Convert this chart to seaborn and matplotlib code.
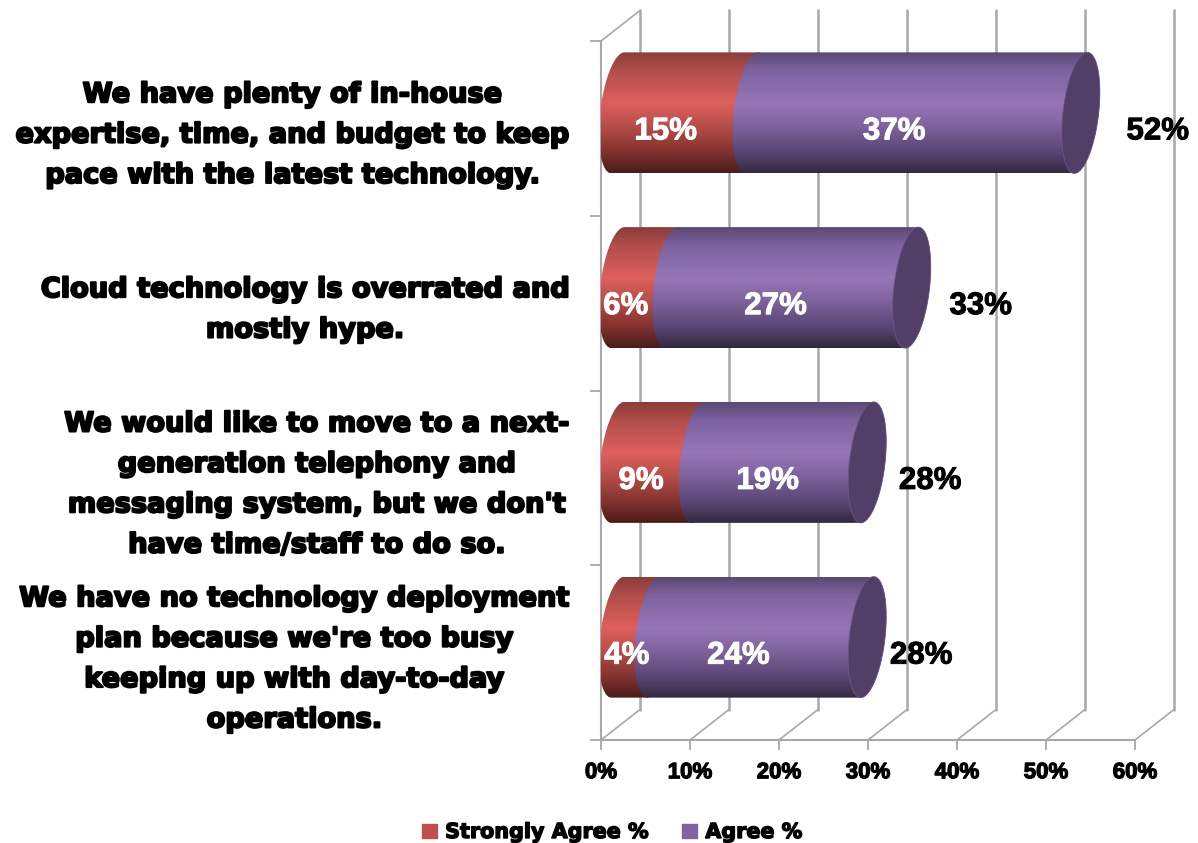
import matplotlib
matplotlib.use("Agg")
import matplotlib.pyplot as plt
import matplotlib.patheffects as pe
from matplotlib.colors import LinearSegmentedColormap
from matplotlib.patches import Patch, PathPatch, Polygon
from matplotlib.path import Path
from matplotlib.transforms import ScaledTranslation
import numpy as np
import pandas as pd
import seaborn as sns

statements = [
    "We have plenty of in-house\nexpertise, time, and budget to keep\npace with the latest technology.",
    "Cloud technology is overrated and\nmostly hype.",
    "We would like to move to a next-\ngeneration telephony and\nmessaging system, but we don't\nhave time/staff to do so.",
    "We have no technology deployment\nplan because we're too busy\nkeeping up with day-to-day\noperations.",
]
strongly_agree = [15, 6, 9, 4]
agree = [37, 27, 19, 24]
x_ticks = [0, 10, 20, 30, 40, 50, 60]

RED = "#C0504D"
PURPLE = "#8064A2"
CAP = "#523F68"
GRID = "#a8a8a8"
TEXT_FONT = ["DejaVu Sans"]
NUM_FONT = ["Liberation Sans"]

# Pixel size of one axis unit, used to lay out the oblique depth effect.
UX, UY = 8.9, 174.75
DEPTH_X, DEPTH_Y = 39 / UX, 30.5 / UY
MID_X, MID_Y = 17 / UX, 15.5 / UY
ELL_A, ELL_S, = 17.9 / UX, 6.5 / UX

sns.set_theme(style="white")
fig = plt.figure(figsize=(11.98, 8.43), dpi=100)
W, H = 1198, 843
ax = fig.add_axes([601 / W, 1 - 740 / H, 534 / W, 699 / H])

df = pd.DataFrame({"statement": statements, "strong": strongly_agree, "agree": agree})
sns.barplot(data=df, y="statement", x="strong", color=RED, width=121 / UY,
            orient="h", ax=ax, zorder=0)
n_first = len(ax.patches)
sns.barplot(data=df, y="statement", x="agree", color=PURPLE, width=121 / UY,
            orient="h", ax=ax, left=df["strong"].to_numpy(), zorder=0)
bars = list(ax.patches)

ax.set_xlim(0, 60)
ax.set_ylim(3.5, -0.5)
ax.set_xlabel("")
ax.set_ylabel("")

RED_MAP = LinearSegmentedColormap.from_list(
    "red_shade", [(0, "#8a3d3a"), (0.15, "#b04e4b"), (0.42, "#de605d"),
                  (0.6, "#b94f4c"), (0.85, "#7a2f2c"), (1, "#4a1b19")])
PURPLE_MAP = LinearSegmentedColormap.from_list(
    "purple_shade", [(0, "#5b4873"), (0.15, "#7d62a0"), (0.42, "#9676b9"),
                     (0.6, "#80649f"), (0.85, "#56426f"), (1, "#34283f")])


def ellipse(cx, cy, half_h, t):
    return np.column_stack([cx + ELL_A * np.cos(t) - ELL_S * np.sin(t),
                            cy + half_h * np.sin(t)])


def draw_cylinder(bar, cmap, end_cap):
    x0, x1 = bar.get_x() + MID_X, bar.get_x() + bar.get_width() + MID_X
    half_h = bar.get_height() / 2
    cy = bar.get_y() + half_h - MID_Y
    # Left end curves out on the near side; the far end closes the silhouette.
    left = ellipse(x0, cy, half_h, np.linspace(np.pi / 2, 3 * np.pi / 2, 60))
    right = ellipse(x1, cy, half_h, np.linspace(-np.pi / 2, np.pi / 2, 60))
    shape = np.vstack([left, right])
    outline = PathPatch(Path(np.vstack([shape, shape[:1]])), fc="none",
                        ec="none", transform=ax.transData)
    ax.add_patch(outline)
    img = ax.imshow(np.linspace(0, 1, 256)[:, None], cmap=cmap, aspect="auto",
                    extent=(shape[:, 0].min(), shape[:, 0].max(),
                            cy + half_h, cy - half_h), zorder=2.5)
    img.set_clip_path(outline)
    if end_cap:
        t = np.linspace(0, 2 * np.pi, 120)
        ax.add_patch(Polygon(ellipse(x1, cy, half_h, t), closed=True, fc=CAP,
                             ec="#6d5589", lw=0.6, zorder=2.6))


for bar in bars[:n_first]:
    draw_cylinder(bar, RED_MAP, False)
for bar in bars[n_first:]:
    draw_cylinder(bar, PURPLE_MAP, True)
for bar in bars:
    bar.set_visible(False)
ax.set_xlim(0, 60)
ax.set_ylim(3.5, -0.5)

# Back wall, floor and side of the oblique frame.
for tick in x_ticks:
    ax.plot([tick + DEPTH_X] * 2, [3.5 - DEPTH_Y, -0.5 - DEPTH_Y], color=GRID,
            lw=1.8, clip_on=False, zorder=1)
    ax.plot([tick, tick + DEPTH_X], [3.5, 3.5 - DEPTH_Y], color=GRID, lw=1.2,
            clip_on=False, zorder=1)
ax.plot([0, DEPTH_X], [-0.5, -0.5 - DEPTH_Y], color=GRID, lw=1.2, clip_on=False, zorder=1)

sns.despine(ax=ax, top=True, right=True)
for side in ("left", "bottom"):
    ax.spines[side].set_color(GRID)
    ax.spines[side].set_linewidth(1.5)
    ax.spines[side].set_zorder(1.5)

heavy = [pe.withStroke(linewidth=1.5, foreground="black")]
medium = [pe.withStroke(linewidth=0.9, foreground="black")]
light = [pe.withStroke(linewidth=0.7, foreground="white")]

ax.set_xticks(x_ticks, [f"{t}%" for t in x_ticks], fontfamily=NUM_FONT,
              fontweight="bold", fontsize=16, color="black")
ax.tick_params(axis="x", length=7, width=1.3, color=GRID, pad=9, bottom=True)
for lab in ax.get_xticklabels():
    lab.set_path_effects(medium)

ax.set_yticks(range(4), statements, fontfamily=TEXT_FONT, fontweight="bold",
              fontsize=19.6, color="black", linespacing=1.72, multialignment="center")
ax.tick_params(axis="y", which="major", length=0, pad=23)
ax.set_yticks(np.arange(-0.5, 4), minor=True)
ax.tick_params(axis="y", which="minor", length=8, width=1.3, color=GRID, left=True)
raise_labels = ScaledTranslation(0, 3 / 100, fig.dpi_scale_trans)
for lab in ax.get_yticklabels():
    lab.set_path_effects(heavy)
    lab.set_transform(lab.get_transform() + raise_labels)

# Segment values sit at the middle of each bar part; totals to the right of the bar.
segment_nudge = [[-2, -5], [-2, 1], [0, 2], [8, -5]]
total_nudge = [94, 86, 80, 71]
for i, (s, a) in enumerate(zip(strongly_agree, agree)):
    ax.annotate(f"{s}%", (s / 2, i), xytext=(segment_nudge[i][0] * 0.72, -3 * 0.72),
                textcoords="offset points", ha="center", va="center", color="white",
                fontfamily=NUM_FONT, fontweight="bold", fontsize=22.5,
                path_effects=light, zorder=4)
    ax.annotate(f"{a}%", (s + a / 2, i), xytext=(segment_nudge[i][1] * 0.72, -3 * 0.72),
                textcoords="offset points", ha="center", va="center", color="white",
                fontfamily=NUM_FONT, fontweight="bold", fontsize=22.5,
                path_effects=light, zorder=4)
    ax.annotate(f"{s + a}%", (s + a, i), xytext=(total_nudge[i] * 0.72, -3 * 0.72),
                textcoords="offset points", ha="center", va="center", color="black",
                fontfamily=NUM_FONT, fontweight="bold", fontsize=22.5,
                path_effects=[pe.withStroke(linewidth=0.7, foreground="black")],
                annotation_clip=False, zorder=4)

leg = fig.legend(handles=[Patch(color=RED, label="Strongly Agree %"),
                          Patch(color=PURPLE, label="Agree %")],
                 loc="center", bbox_to_anchor=(612 / W, 1 - 832 / H), ncol=2, frameon=False,
                 prop={"family": TEXT_FONT, "weight": "bold", "size": 14.9},
                 labelcolor="black", handlelength=0.72, handleheight=0.7,
                 handletextpad=0.4, columnspacing=1.64)
for t in leg.get_texts():
    t.set_path_effects([pe.withStroke(linewidth=1.0, foreground="black")])

fig.savefig("out.png", dpi=100)
